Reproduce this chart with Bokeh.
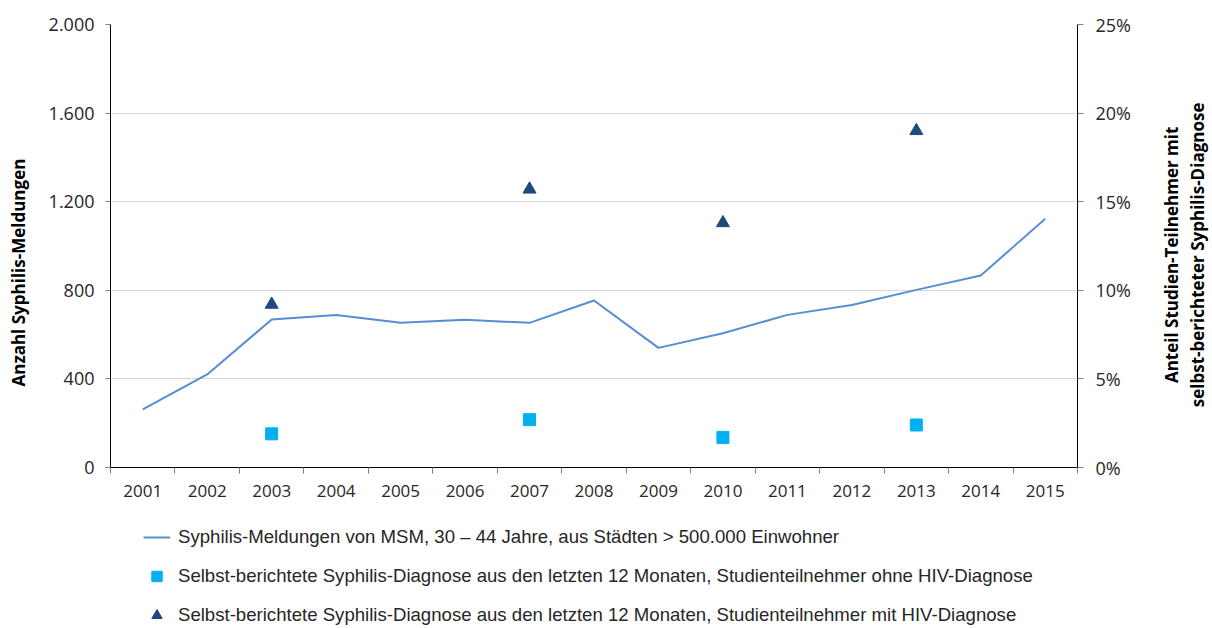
import math
from bokeh.plotting import figure
from bokeh.layouts import column, row
from bokeh.models import Range1d, LinearAxis, FixedTicker, Legend, LegendItem
from bokeh.core.properties import value
from bokeh.embed import file_html
from bokeh.resources import INLINE

# ---- data ----
years = [2001, 2002, 2003, 2004, 2005, 2006, 2007, 2008, 2009, 2010, 2011, 2012, 2013, 2014, 2015]
meldungen = [262, 420, 668, 688, 653, 667, 653, 754, 540, 606, 689, 734, 802, 867, 1123]
survey_years = [2003, 2007, 2010, 2013]
ohne_hiv_pct = [1.9, 2.7, 1.7, 2.4]
mit_hiv_pct = [9.2, 15.7, 13.8, 19.0]
left_ticks = [0, 400, 800, 1200, 1600, 2000]
left_tick_labels = ["0", "400", "800", "1.200", "1.600", "2.000"]
right_ticks = [0, 5, 10, 15, 20, 25]
right_tick_labels = ["0%", "5%", "10%", "15%", "20%", "25%"]
legend_labels = [
    "Syphilis-Meldungen von MSM, 30 \u2013 44 Jahre, aus Städten > 500.000 Einwohner",
    "Selbst-berichtete Syphilis-Diagnose aus den letzten 12 Monaten, Studienteilnehmer ohne HIV-Diagnose",
    "Selbst-berichtete Syphilis-Diagnose aus den letzten 12 Monaten, Studienteilnehmer mit HIV-Diagnose",
]
left_title = ["Anzahl Syphilis-Meldungen"]
right_title_lines = ["Anteil Studien-Teilnehmer mit", "selbst-berichteter Syphilis-Diagnose"]

FONT = "Open Sans"
TXT = "#262626"
LINE_C = "#558ED5"
SQ_C = "#00B0F0"
TRI_C = "#1F497D"

# ---- main chart ----
p = figure(width=1100, height=510, output_backend="svg", toolbar_location=None,
           x_range=Range1d(years[0] - 0.5, years[-1] + 0.5), y_range=Range1d(0, 2000),
           min_border_left=70, min_border_right=63, min_border_top=24, min_border_bottom=43)
p.extra_y_ranges = {"pct": Range1d(0, 25)}
p.outline_line_color = None
p.xgrid.visible = False
p.ygrid.grid_line_color = "#d9d9d9"
p.ygrid.grid_line_width = 1
p.ygrid.ticker = FixedTicker(ticks=left_ticks)

xa = p.xaxis[0]
xa.ticker = FixedTicker(ticks=years, minor_ticks=[y - 0.5 for y in years] + [years[-1] + 0.5])
xa.major_tick_out = 0
xa.major_tick_in = 0
xa.minor_tick_out = 6
xa.minor_tick_in = 0
xa.minor_tick_line_color = "#808080"
xa.axis_line_color = "#000000"
xa.major_label_standoff = 11
xa.major_label_text_font = FONT
xa.major_label_text_font_size = "17px"
xa.major_label_text_color = TXT

ya = p.yaxis[0]
ya.ticker = FixedTicker(ticks=left_ticks)
ya.major_label_overrides = {t: l for t, l in zip(left_ticks, left_tick_labels)}
ya.major_tick_out = 5
ya.major_tick_in = 0
ya.minor_tick_out = 0
ya.minor_tick_in = 0
ya.major_tick_line_color = "#808080"
ya.axis_line_color = "#000000"
ya.major_label_standoff = 11
ya.major_label_text_font = FONT
ya.major_label_text_font_size = "18px"
ya.major_label_text_color = TXT

ra = LinearAxis(y_range_name="pct")
ra.ticker = FixedTicker(ticks=right_ticks)
ra.major_label_overrides = {t: l for t, l in zip(right_ticks, right_tick_labels)}
ra.major_tick_out = 6
ra.major_tick_in = 0
ra.minor_tick_out = 0
ra.minor_tick_in = 0
ra.major_tick_line_color = "#808080"
ra.axis_line_color = "#000000"
ra.major_label_standoff = 12
ra.major_label_text_font = FONT
ra.major_label_text_font_size = "18px"
ra.major_label_text_color = TXT
p.add_layout(ra, "right")

p.line(years, meldungen, line_color=LINE_C, line_width=2)
p.scatter(survey_years, ohne_hiv_pct, marker="square", size=12, fill_color=SQ_C,
          line_color=SQ_C, y_range_name="pct")
p.scatter(survey_years, mit_hiv_pct, marker="triangle", size=13, fill_color=TRI_C,
          line_color=TRI_C, y_range_name="pct")


def title_panel(width, lines, xs, y):
    f = figure(width=width, height=510, output_backend="svg", toolbar_location=None,
               x_range=Range1d(0, width), y_range=Range1d(0, 1),
               x_axis_location=None, y_axis_location=None,
               min_border_left=0, min_border_right=0, min_border_top=24, min_border_bottom=43)
    f.outline_line_color = None
    f.grid.visible = False
    f.text(x=xs, y=[y] * len(lines), text=lines, angle=math.pi / 2,
           text_align="center", text_baseline="middle",
           text_font=value(FONT), text_font_style="bold", text_font_size="17px",
           text_color="#000000")
    return f


lt = title_panel(40, left_title, [18], 0.44)
rt = title_panel(72, right_title_lines, [31, 57], 0.48)

# ---- legend panel (renderers lie outside its ranges; only the legend is seen) ----
lg = figure(width=1212, height=118, output_backend="svg", toolbar_location=None,
            x_range=Range1d(0, 1), y_range=Range1d(0, 1),
            x_axis_location=None, y_axis_location=None,
            min_border_left=110, min_border_right=135, min_border_top=0, min_border_bottom=0)
lg.outline_line_color = None
lg.grid.visible = False
lr = lg.line(years, meldungen, line_color=LINE_C, line_width=2)
ls = lg.scatter(survey_years, ohne_hiv_pct, marker="square", size=12, fill_color=SQ_C, line_color=SQ_C)
ltr = lg.scatter(survey_years, mit_hiv_pct, marker="triangle", size=13, fill_color=TRI_C, line_color=TRI_C)

legend = Legend(items=[LegendItem(label=legend_labels[0], renderers=[lr]),
                       LegendItem(label=legend_labels[1], renderers=[ls]),
                       LegendItem(label=legend_labels[2], renderers=[ltr])],
                location=(33, 0), orientation="vertical",
                padding=0, margin=0, spacing=13, label_height=22, glyph_height=26,
                glyph_width=27, label_standoff=8,
                label_text_font="Liberation Sans", label_text_font_size="18.6px",
                label_text_color=TXT, border_line_alpha=0, background_fill_alpha=0)
lg.add_layout(legend, "center")

layout = column(row(lt, p, rt, spacing=0), lg, spacing=0)
open("out.html", "w").write(file_html(layout, INLINE))
